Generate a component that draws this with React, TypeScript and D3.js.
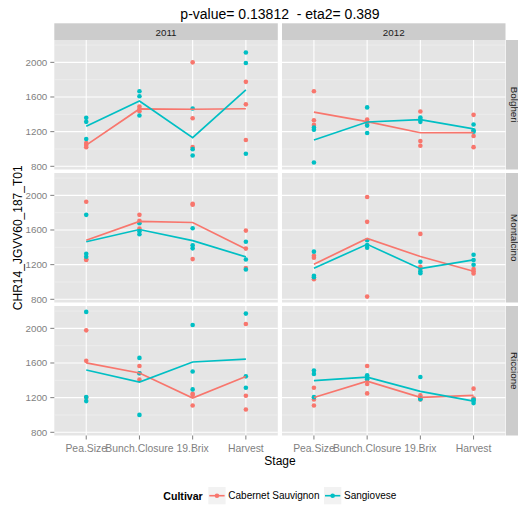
import React from 'react';
import * as d3 from 'd3';

// Facet layout: columns = year, rows = site
const stages = ['Pea.Size', 'Bunch.Closure', '19.Brix', 'Harvest'];
const years = ['2011', '2012'];
const sites = ['Bolgheri', 'Montalcino', 'Riccione'];
const cultivars = ['Cabernet Sauvignon', 'Sangiovese'];
const cultivarColors = ['#F8766D', '#00BFC4'];
const yTicks = [800, 1200, 1600, 2000];
const yMinorTicks = [1000, 1400, 1800, 2200];

// Replicate expression values per stage (Pea.Size, Bunch.Closure, 19.Brix, Harvest)
const bolgheri2011Cab = [[1068, 1045, 1021], [1490, 1462, 1435], [2000, 1355, 1021], [1775, 1515, 1103]];
const bolgheri2011Sang = [[1359, 1313, 1115], [1666, 1608, 1386], [1468, 998, 924], [2113, 1992, 944]];
const bolgheri2012Cab = [[1666, 1332, 1278], [1340, 1315, 1290], [1433, 1091, 1037], [1394, 1150, 1021]];
const bolgheri2012Sang = [[1247, 1223, 843], [1480, 1270, 1185], [1363, 1340, 1313], [1282, 1216, 1200]];
const montalcino2011Cab = [[1926, 1262, 1255], [1775, 1706, 1617], [1903, 1892, 1264], [1593, 1385, 1160]];
const montalcino2011Sang = [[1775, 1326, 1292], [1679, 1586, 1551], [1621, 1423, 1388], [1465, 1260, 1144]];
const montalcino2012Cab = [[1303, 1280, 1032], [1981, 1694, 831], [1555, 1176, 1152], [1149, 1125, 1098]];
const montalcino2012Sang = [[1350, 1071, 1055], [1481, 1427, 1396], [1234, 1125, 1102], [1315, 1253, 1199]];
const riccione2011Cab = [[1977, 1625, 1201], [1566, 1481, 1408], [1245, 1230, 1110], [2050, 1222, 1063]];
const riccione2011Sang = [[2190, 1207, 1160], [1659, 1481, 1001], [2039, 1501, 1295], [2170, 1446, 1315]];
const riccione2012Cab = [[1315, 1179, 1110], [1566, 1357, 1249], [1226, 1206, 1179], [1304, 1188, 1190]];
const riccione2012Sang = [[1512, 1474, 1206], [1458, 1439, 1412], [1439, 1195, 1182], [1168, 1137, 1175]];

// table[site][year][cultivar] -> replicates by stage
const table: number[][][][][] = [
  [[bolgheri2011Cab, bolgheri2011Sang], [bolgheri2012Cab, bolgheri2012Sang]],
  [[montalcino2011Cab, montalcino2011Sang], [montalcino2012Cab, montalcino2012Sang]],
  [[riccione2011Cab, riccione2011Sang], [riccione2012Cab, riccione2012Sang]],
];

const FONT = '"Liberation Sans", Arial, Helvetica, sans-serif';
const W = 518;
const H = 508;
const panelX = [54.3, 282];
const panelW = 223.5;
const panelY = [40, 173, 306];
const panelH = 129.5;
const stripTop = 23.3;
const stripRightX = 506;

const allValues = table.flat(4) as number[];
const [vMin, vMax] = d3.extent(allValues) as [number, number];
const pad = (vMax - vMin) * 0.05;

const y = d3.scaleLinear().domain([vMin - pad, vMax + pad]).range([panelH, 0]);
const x = d3.scalePoint<string>().domain(stages).range([0, panelW]).padding(0.6);

const line = d3
  .line<{ stage: string; v: number }>()
  .x((d) => x(d.stage) as number)
  .y((d) => y(d.v));

function Panel({ row, col }: { row: number; col: number }) {
  const px = panelX[col];
  const py = panelY[row];
  const groups = table[row][col];
  return (
    <g transform={`translate(${px},${py})`}>
      <rect width={panelW} height={panelH} fill="#e5e5e5" />
      {yMinorTicks.map((t) => (
        <line key={'m' + t} x1={0} x2={panelW} y1={y(t)} y2={y(t)} stroke="#f2f2f2" strokeWidth={0.6} />
      ))}
      {yTicks.map((t) => (
        <line key={'M' + t} x1={0} x2={panelW} y1={y(t)} y2={y(t)} stroke="#ffffff" strokeWidth={1.1} />
      ))}
      {stages.map((s) => (
        <line key={s} x1={x(s)} x2={x(s)} y1={0} y2={panelH} stroke="#ffffff" strokeWidth={1.1} />
      ))}
      {groups.map((reps, ci) =>
        reps.map((vals, si) =>
          vals.map((v, k) => (
            <circle key={`${ci}-${si}-${k}`} cx={x(stages[si])} cy={y(v)} r={2.3} fill={cultivarColors[ci]} />
          ))
        )
      )}
      {groups.map((reps, ci) => {
        const means = reps.map((vals, si) => ({ stage: stages[si], v: d3.mean(vals) as number }));
        return (
          <path key={'l' + ci} d={line(means) || ''} fill="none" stroke={cultivarColors[ci]} strokeWidth={1.7} />
        );
      })}
    </g>
  );
}

export default function App() {
  const panels: React.ReactNode[] = [];
  sites.forEach((_, r) => years.forEach((__, c) => panels.push(<Panel key={`${r}-${c}`} row={r} col={c} />)));

  return (
    <svg width={W} height={H} style={{ display: 'block', position: 'absolute', left: 0, top: 0, background: '#ffffff' }} fontFamily={FONT}>
      <rect width={W} height={H} fill="#ffffff" />
      <text x={280} y={19} textAnchor="middle" fontSize={14} fill="#000000" style={{ whiteSpace: 'pre' }}>
        {'p-value= 0.13812  - eta2= 0.389'}
      </text>

      {/* column strips */}
      {years.map((yr, c) => (
        <g key={yr}>
          <rect x={panelX[c]} y={stripTop} width={panelW} height={panelY[0] - stripTop} fill="#cccccc" />
          <text x={panelX[c] + panelW / 2} y={35.5} textAnchor="middle" fontSize={9.8} fill="#1a1a1a">
            {yr}
          </text>
        </g>
      ))}

      {/* row strips */}
      {sites.map((s, r) => (
        <g key={s}>
          <rect x={stripRightX} y={panelY[r]} width={20} height={panelH} fill="#cccccc" />
          <text
            transform={`translate(${510.5},${panelY[r] + panelH / 2}) rotate(90)`}
            textAnchor="middle"
            fontSize={9.8}
            fill="#1a1a1a"
          >
            {s}
          </text>
        </g>
      ))}

      {panels}

      {/* y axes */}
      {sites.map((s, r) => (
        <g key={'ya' + s} transform={`translate(${panelX[0]},${panelY[r]})`}>
          {yTicks.map((t) => (
            <g key={t}>
              <line x1={-4} x2={0} y1={y(t)} y2={y(t)} stroke="#7f7f7f" strokeWidth={1} />
              <text x={-7} y={y(t)} dy="0.35em" textAnchor="end" fontSize={9.8} fill="#7f7f7f">
                {t}
              </text>
            </g>
          ))}
        </g>
      ))}

      {/* x axes */}
      {years.map((yr, c) => (
        <g key={'xa' + yr} transform={`translate(${panelX[c]},${panelY[2] + panelH})`}>
          {stages.map((s) => (
            <g key={s}>
              <line x1={x(s)} x2={x(s)} y1={0} y2={4} stroke="#7f7f7f" strokeWidth={1} />
              <text x={x(s)} y={16} textAnchor="middle" fontSize={10.4} fill="#7f7f7f">
                {s}
              </text>
            </g>
          ))}
        </g>
      ))}

      {/* axis titles */}
      <text x={280} y={465} textAnchor="middle" fontSize={12} fill="#000000">
        Stage
      </text>
      <text
        transform={`translate(${21.5},${(panelY[0] + panelY[2] + panelH) / 2}) rotate(-90)`}
        textAnchor="middle"
        fontSize={12}
        fill="#000000"
      >
        CHR14_JGVV60_187_T01
      </text>

      {/* legend */}
      <g>
        <text x={163.3} y={499.5} fontSize={10.6} fontWeight="bold" fill="#000000">
          Cultivar
        </text>
        {cultivars.map((name, i) => {
          const kx = i === 0 ? 208.3 : 324;
          return (
            <g key={name}>
              <rect x={kx} y={487} width={17.3} height={17.3} fill="#f2f2f2" />
              <line x1={kx + 1} x2={kx + 16.3} y1={495.7} y2={495.7} stroke={cultivarColors[i]} strokeWidth={1.6} />
              <circle cx={kx + 8.65} cy={495.7} r={2.3} fill={cultivarColors[i]} />
              <text x={kx + 20} y={499.2} fontSize={10} fill="#000000">
                {name}
              </text>
            </g>
          );
        })}
      </g>
    </svg>
  );
}
